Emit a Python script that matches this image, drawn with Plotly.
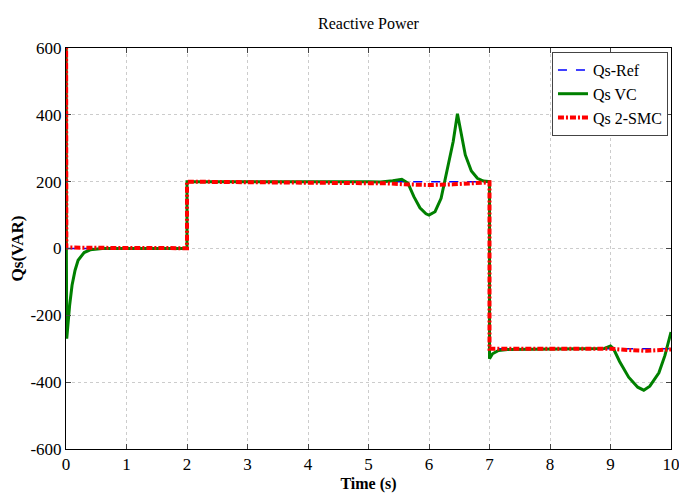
import plotly.graph_objects as go

# Reference Qs-Ref
ref_t = [0, 2, 2, 7, 7, 10]
ref_q = [0, 0, 200, 200, -300, -300]

# Qs VC (green)
vc_t = [0, 0.002, 0.006, 0.012, 0.03, 0.06, 0.1, 0.15, 0.2, 0.3, 0.4, 0.5, 0.6, 2.0,
        2.0, 5.0, 5.2, 5.4, 5.55, 5.65, 5.75, 5.85, 5.95, 6.0, 6.1, 6.2, 6.3, 6.4,
        6.47, 6.55, 6.6, 6.7, 6.8, 6.9, 7.0, 7.0, 7.05, 7.15, 7.3, 8.9, 9.0, 9.05,
        9.15, 9.3, 9.45, 9.55, 9.65, 9.8, 9.9, 10.0]
vc_q = [0, 600, 0, -270, -230, -170, -110, -65, -35, -12, -4, -1, 0, 0,
        200, 200, 199, 203, 207, 196, 155, 122, 104, 100, 110, 150, 230, 320,
        403, 330, 280, 232, 210, 202, 200, -330, -315, -305, -302, -299, -292, -300,
        -338, -385, -415, -424, -412, -372, -320, -250]

# Qs 2-SMC (red)
smc_t = [0, 0.002, 0.006, 0.5, 1.0, 1.5, 2.0, 2.0, 3.0, 4.0, 5.0, 5.3, 5.6, 6.0,
         6.4, 6.8, 7.0, 7.0, 7.5, 8.0, 8.5, 9.0, 9.3, 9.6, 10.0]
smc_q = [0, 600, 3, 2, 1, 1, 1, 200, 199, 199, 198, 195, 192, 190,
         192, 196, 198, -300, -300, -300, -300, -300, -304, -306, -302]

x_ticks = list(range(11))
y_ticks = [-600, -400, -200, 0, 200, 400, 600]
y_labels = ["-600", "-400", "-200", "0", "200", "400", "600"]

fig = go.Figure()
fig.add_trace(go.Scatter(x=ref_t, y=ref_q, mode="lines", name="Qs-Ref",
                         line=dict(color="#0000ff", width=1.5, dash="dash")))
fig.add_trace(go.Scatter(x=vc_t, y=vc_q, mode="lines", name="Qs VC",
                         line=dict(color="#008000", width=3)))
fig.add_trace(go.Scatter(x=smc_t, y=smc_q, mode="lines", name="Qs 2-SMC",
                         line=dict(color="#ff0000", width=4, dash="6px,2px,2px,2px")))

font = "Liberation Serif, Times New Roman, serif"
fig.update_layout(
    width=679, height=495,
    margin=dict(l=66, r=8, t=48, b=46, autoexpand=False),
    paper_bgcolor="white", plot_bgcolor="white",
    title=dict(text="Reactive Power", x=0.50, xanchor="center", xref="paper",
               y=0.952, yanchor="middle", yref="container",
               font=dict(family=font, size=16, color="black")),
    showlegend=True,
    legend=dict(x=0.995, y=0.99, xanchor="right", yanchor="top",
                bgcolor="white", bordercolor="#444", borderwidth=1,
                font=dict(family=font, size=16, color="black"), tracegroupgap=4),
    font=dict(family=font, color="black"),
)
fig.update_xaxes(range=[0, 10], tickvals=x_ticks, ticks="inside", ticklen=5, automargin=False,
                 ticklabeloverflow="allow",
                 showline=True, linecolor="black", mirror="ticks", linewidth=1,
                 showgrid=True, gridcolor="#cccccc", griddash="dot", zeroline=False,
                 tickfont=dict(family=font, size=17, color="black"),
                 title=dict(text="<b>Time (s)</b>", font=dict(family=font, size=16), standoff=4))
fig.update_yaxes(range=[-600, 600], tickvals=y_ticks, ticktext=y_labels,
                 ticks="inside", ticklen=5, automargin=False,
                 showline=True, linecolor="black", mirror="ticks", linewidth=1,
                 showgrid=True, gridcolor="#cccccc", griddash="dot", zeroline=False,
                 tickfont=dict(family=font, size=17, color="black"),
                 title=dict(text="<b>Qs(VAR)</b>", font=dict(family=font, size=17), standoff=2))

fig.write_html("out.html", config={"displayModeBar": False},
               post_script="document.body.style.margin='0px';")
